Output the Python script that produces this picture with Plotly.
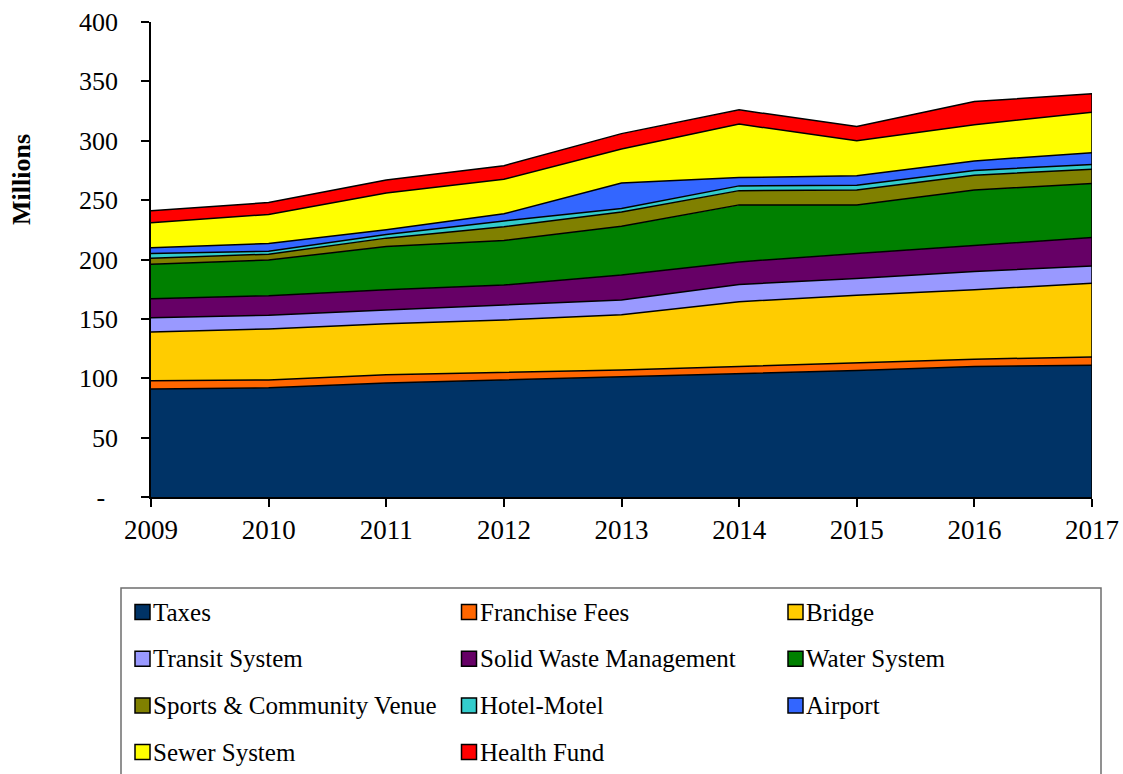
import plotly.graph_objects as go

# Fiscal years on the horizontal axis
years = [2009, 2010, 2011, 2012, 2013, 2014, 2015, 2016, 2017]

# Revenue by fund, in millions
taxes = [91, 92, 96, 98.5, 101, 103.5, 106.5, 110, 111]
franchise_fees = [7, 6.5, 7, 6.5, 6, 6.5, 6.5, 6, 7]
bridge = [41, 43, 43, 44, 46.5, 54.5, 57, 58.5, 62]
transit_system = [12, 11.5, 11.5, 13, 12.5, 14.5, 14, 15.5, 14.5]
solid_waste = [16, 16.5, 17, 16.5, 21, 19, 21, 21.5, 24]
water_system = [29, 30, 36.5, 37.5, 41, 48, 41, 47, 45.5]
sports_venue = [5, 5, 7, 11.5, 12, 12, 12.5, 12.5, 12]
hotel_motel = [4, 2.5, 3, 5, 3, 4, 4, 4, 4]
airport = [5, 6.5, 4, 6, 21.5, 7, 8, 8, 10]
sewer_system = [21, 24.5, 31, 29, 28.5, 45, 29.5, 30.5, 34]
health_fund = [10, 10, 11, 11.5, 13, 12, 12, 19.5, 15.5]

series_names = [
    "Taxes", "Franchise Fees", "Bridge", "Transit System",
    "Solid Waste Management", "Water System", "Sports & Community Venue",
    "Hotel-Motel", "Airport", "Sewer System", "Health Fund",
]
series_values = [
    taxes, franchise_fees, bridge, transit_system, solid_waste,
    water_system, sports_venue, hotel_motel, airport, sewer_system,
    health_fund,
]
series_colors = [
    "#003366", "#FF6600", "#FFCC00", "#9999FF", "#660066", "#008000",
    "#808000", "#33CCCC", "#3366FF", "#FFFF00", "#FF0000",
]

y_ticks = [0, 50, 100, 150, 200, 250, 300, 350, 400]
y_tick_text = ["-\u00a0\u00a0"] + [str(v) for v in y_ticks[1:]]

FONT = "Liberation Serif, Times New Roman, serif"

# Page geometry (pixels)
WIDTH, HEIGHT = 1123, 774
M_L, M_R, M_T, M_B = 151, 31, 22, 277
PLOT_W = WIDTH - M_L - M_R
PLOT_H = HEIGHT - M_T - M_B


def px_x(px):
    return (px - M_L) / PLOT_W


def px_y(py):
    return (HEIGHT - M_B - py) / PLOT_H


fig = go.Figure()

for name, vals, color in zip(series_names, series_values, series_colors):
    fig.add_trace(go.Scatter(
        x=years, y=vals, name=name, stackgroup="funds", mode="lines",
        line=dict(color="black", width=1.5), fillcolor=color,
        showlegend=False, hoverinfo="x+y+name",
    ))

# Closing edge of the stack at the final year
total_last = sum(v[-1] for v in series_values)
fig.add_trace(go.Scatter(
    x=[years[-1], years[-1]], y=[0, total_last], mode="lines",
    line=dict(color="black", width=1.5), showlegend=False, hoverinfo="skip",
))

# Boxed legend below the chart, three entries per row
shapes = []
annotations = []
box_left, box_right, box_top = 121, 1101, 588
shapes.append(dict(
    type="rect", xref="paper", yref="paper", layer="above",
    x0=px_x(box_left), x1=px_x(box_right),
    y0=px_y(HEIGHT + 20), y1=px_y(box_top),
    line=dict(color="#6e6e6e", width=1.5), fillcolor="rgba(0,0,0,0)",
))
col_left = [135, 461.5, 788]
row_top = 612
row_step = 46.7
sw = 15
for i, (name, color) in enumerate(zip(series_names, series_colors)):
    cx = col_left[i % 3]
    cy = row_top + (i // 3) * row_step
    shapes.append(dict(
        type="rect", xref="paper", yref="paper", layer="above",
        x0=px_x(cx), x1=px_x(cx + sw),
        y0=px_y(cy + sw / 2), y1=px_y(cy - sw / 2),
        line=dict(color="black", width=1.5), fillcolor=color,
    ))
    annotations.append(dict(
        xref="paper", yref="paper", x=px_x(cx + sw + 1), y=px_y(cy),
        xanchor="left", yanchor="middle", text=name, showarrow=False,
        font=dict(family=FONT, size=25, color="black"),
    ))

# Vertical axis title
annotations.append(dict(
    xref="paper", yref="paper", x=px_x(22), y=px_y(180),
    xanchor="center", yanchor="middle", text="<b>Millions</b>",
    textangle=-90, showarrow=False,
    font=dict(family=FONT, size=26, color="black"),
))

fig.update_layout(
    width=WIDTH, height=HEIGHT,
    margin=dict(l=M_L, r=M_R, t=M_T, b=M_B, pad=0, autoexpand=False),
    paper_bgcolor="white", plot_bgcolor="white",
    font=dict(family=FONT, color="black"),
    showlegend=False,
    shapes=shapes, annotations=annotations,
    xaxis=dict(
        range=[years[0], years[-1]], tickvals=years,
        ticktext=[str(y) for y in years],
        showline=True, linecolor="black", linewidth=1.5,
        ticks="outside", ticklen=8, tickwidth=1.5, tickcolor="black",
        showgrid=False, zeroline=False, automargin=False,
        tickfont=dict(family=FONT, size=27, color="black"),
        ticklabelstandoff=0,
    ),
    yaxis=dict(
        range=[0, 400], tickvals=y_ticks, ticktext=y_tick_text,
        showline=True, linecolor="black", linewidth=1.5,
        ticks="outside", ticklen=8, tickwidth=1.5, tickcolor="black",
        showgrid=False, zeroline=False, automargin=False,
        tickfont=dict(family=FONT, size=26, color="black"),
        ticklabelstandoff=18,
    ),
)

fig.write_html("out.html")
